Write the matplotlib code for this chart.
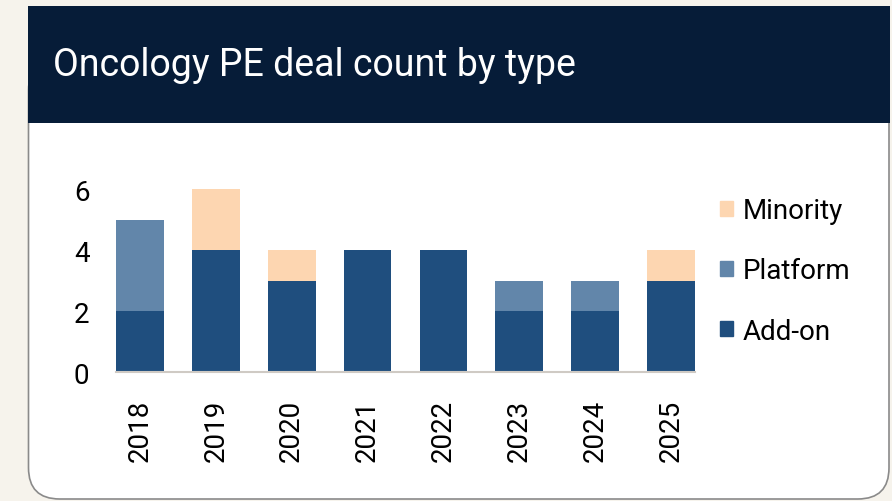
import matplotlib.pyplot as plt
from matplotlib.patches import FancyBboxPatch, Rectangle, Patch

# Data
years = ['2018', '2019', '2020', '2021', '2022', '2023', '2024', '2025']
add_on = [2, 4, 3, 4, 4, 2, 2, 3]
platform = [3, 0, 0, 0, 0, 1, 1, 0]
minority = [0, 2, 1, 0, 0, 0, 0, 1]

c_addon = '#1f4e7e'
c_platform = '#6286aa'
c_minority = '#fdd6b1'

W, H = 892, 502
fig = plt.figure(figsize=(W / 100, H / 100), dpi=100)
fig.patch.set_facecolor('#f6f3ec')

# card (top corners hidden under the header)
card = FancyBboxPatch((28.5 / W, 2 / H), (889 - 28.5) / W, (H - 60 - 2) / H,
                      boxstyle='round,pad=0,rounding_size=0.035',
                      transform=fig.transFigure, facecolor='white',
                      edgecolor='#8a8a8a', linewidth=1.2, mutation_aspect=W / H,
                      zorder=-2)
fig.patches.append(card)

header = Rectangle((28 / W, (H - 124) / H), (890 - 28) / W, 117 / H,
                   transform=fig.transFigure, facecolor='#061c38',
                   edgecolor='none', zorder=-1)
fig.patches.append(header)
fig.text(53 / W, (H - 66) / H, 'Oncology PE deal count by type',
         color='white', fontsize=27, family=['Roboto', 'DejaVu Sans'],
         va='center', ha='left')

narrow = ['Liberation Sans Narrow', 'Roboto', 'DejaVu Sans']

ax = fig.add_axes([116 / W, 129 / H, (695 - 116) / W, 192 / H])
ax.set_facecolor('none')
x = range(len(years))
bottom2 = [a + p for a, p in zip(add_on, platform)]
ax.bar(x, add_on, width=0.63, color=c_addon, label='Add-on')
ax.bar(x, platform, width=0.63, bottom=add_on, color=c_platform, label='Platform')
ax.bar(x, minority, width=0.63, bottom=bottom2, color=c_minority, label='Minority')

ax.set_xlim(-0.315, 7.315)
ax.set_ylim(0, 6.3)
ax.set_yticks([0, 2, 4, 6])
ax.set_xticks(list(x))
ax.set_xticklabels(years, rotation=90, family=narrow, fontsize=20)
for lab in ax.get_yticklabels():
    lab.set_family(narrow)
    lab.set_fontsize(20)
ax.tick_params(axis='both', length=0)
ax.tick_params(axis='y', pad=19)
ax.tick_params(axis='x', pad=19)
for s in ['top', 'right', 'left']:
    ax.spines[s].set_visible(False)
ax.spines['bottom'].set_color('#cfcac4')
ax.spines['bottom'].set_linewidth(1.5)

handles = [Patch(color=c_minority), Patch(color=c_platform), Patch(color=c_addon)]
fig.legend(handles, ['Minority', 'Platform', 'Add-on'], loc='center left',
           bbox_to_anchor=(720 / W, (H - 272) / H), frameon=False,
           borderpad=0, borderaxespad=0, handlelength=0.45, handleheight=0.45,
           handletextpad=0.36, labelspacing=1.2,
           prop={'family': narrow, 'size': 20})

fig.savefig('out.png', dpi=100, facecolor=fig.get_facecolor())
